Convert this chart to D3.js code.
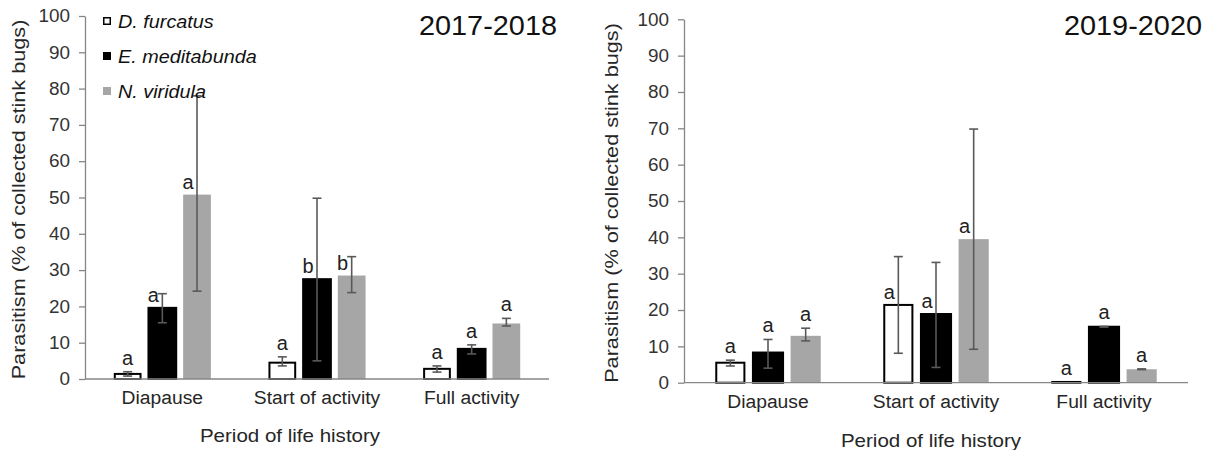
<!DOCTYPE html>
<html>
<head>
<meta charset="utf-8">
<script src="https://cdn.jsdelivr.net/npm/d3@7"></script>
<style>
  body { margin: 0; background: #fff; }
  text { font-family: "Liberation Sans", Arial, sans-serif; }
</style>
</head>
<body>
<div id="container"></div>
<script>
// Categories and series
const periods = ["Diapause", "Start of activity", "Full activity"];
const species = ["D. furcatus", "E. meditabunda", "N. viridula"];

// 2017-2018: rows = periods, columns = species
const mean1718 = [[1.4, 19.6, 50.8], [4.5, 27.5, 28.5], [2.8, 8.3, 15.3]];
const low1718 = [[0.8, 15.5, 24.2], [3.6, 5.0, 23.8], [1.9, 6.9, 14.6]];
const high1718 = [[2.0, 23.5, 78.0], [6.1, 49.8, 33.7], [3.6, 9.4, 16.7]];
const letters1718 = [["a", "a", "a"], ["a", "b", "b"], ["a", "a", "a"]];

// 2019-2020
const mean1920 = [[5.5, 8.3, 12.9], [21.4, 18.9, 39.5], [0.2, 15.4, 3.7]];
const low1920 = [[4.6, 4.0, 11.5], [8.1, 4.2, 9.2], [0.2, 15.3, 3.6]];
const high1920 = [[6.2, 11.9, 15.0], [34.7, 33.1, 69.8], [0.2, 15.5, 3.8]];
const letters1920 = [["a", "a", "a"], ["a", "a", "a"], ["a", "a", "a"]];

const yTicks = [0, 10, 20, 30, 40, 50, 60, 70, 80, 90, 100];

const fills = ["#ffffff", "#000000", "#a6a6a6"];
const strokes = ["#000000", "#000000", "none"];

const width = 1213;
const height = 450;

const svg = d3
  .select("#container")
  .append("svg")
  .attr("width", width)
  .attr("height", height);

// Stretch text slightly wider, the source font renders wider than Arial
function widen(sel, k) {
  sel.each(function () {
    const len = this.getComputedTextLength();
    this.setAttribute("textLength", len * k);
    this.setAttribute("lengthAdjust", "spacingAndGlyphs");
  });
}

const panels = [
  {
    title: "2017-2018", mean: mean1718, low: low1718, high: high1718, letters: letters1718,
    left: 85, right: 549, top: 16, base: 379,
    titleX: 557, xTitleX: 290, xTitleY: 442, yTitleX: 19, catY: 404, legend: true,
  },
  {
    title: "2019-2020", mean: mean1920, low: low1920, high: high1920, letters: letters1920,
    left: 684, right: 1188, top: 19.3, base: 382.7,
    titleX: 1202, xTitleX: 931, xTitleY: 447, yTitleX: 612, catY: 408, legend: false,
  },
];

panels.forEach((p) => {
  const g = svg.append("g");

  const x0 = d3.scaleBand().domain(periods).range([p.left, p.right]).padding(0);
  const x1 = d3
    .scaleBand()
    .domain(species)
    .range([0, x0.bandwidth()])
    .paddingInner(0.2)
    .paddingOuter(0.83);
  const y = d3.scaleLinear().domain([0, 100]).range([p.base, p.top]);

  // y axis
  const yAxis = d3.axisLeft(y).tickValues(yTicks).tickSize(6).tickSizeOuter(0).tickPadding(9);
  const ya = g.append("g").attr("transform", `translate(${p.left},0)`).call(yAxis);
  ya.select(".domain").attr("stroke", "#868686").attr("stroke-width", 1.3);
  ya.selectAll(".tick line").attr("stroke", "#868686").attr("stroke-width", 1.3);
  ya.selectAll(".tick text")
    .attr("fill", "#333")
    .style("font-size", "18px")
    .style("font-family", '"Liberation Sans", Arial, sans-serif')
    .call(widen, 1.05);

  // bars
  const rows = [];
  periods.forEach((per, i) =>
    species.forEach((sp, j) =>
      rows.push({
        per, sp, j,
        v: p.mean[i][j], lo: p.low[i][j], hi: p.high[i][j], letter: p.letters[i][j],
      })
    )
  );

  g.selectAll("rect.bar")
    .data(rows)
    .enter()
    .append("rect")
    .attr("class", "bar")
    .attr("x", (d) => x0(d.per) + x1(d.sp) + (d.j === 0 ? 1 : 0))
    .attr("width", (d) => x1.bandwidth() - (d.j === 0 ? 2 : 0))
    .attr("y", (d) => y(d.v))
    .attr("height", (d) => y(0) - y(d.v))
    .attr("fill", (d) => fills[d.j])
    .attr("stroke", (d) => strokes[d.j])
    .attr("stroke-width", 2);

  // x axis line
  g.append("line")
    .attr("x1", p.left)
    .attr("x2", p.right)
    .attr("y1", y(0))
    .attr("y2", y(0))
    .attr("stroke", "#868686")
    .attr("stroke-width", 1.3);

  // error bars
  const cx = (d) => x0(d.per) + x1(d.sp) + x1.bandwidth() / 2;
  const eb = g.selectAll("g.err").data(rows.filter((d) => d.hi > d.lo)).enter().append("g");
  eb.append("line")
    .attr("x1", cx).attr("x2", cx)
    .attr("y1", (d) => y(d.lo)).attr("y2", (d) => y(d.hi));
  eb.append("line")
    .attr("x1", (d) => cx(d) - 4.5).attr("x2", (d) => cx(d) + 4.5)
    .attr("y1", (d) => y(d.hi)).attr("y2", (d) => y(d.hi));
  eb.append("line")
    .attr("x1", (d) => cx(d) - 4.5).attr("x2", (d) => cx(d) + 4.5)
    .attr("y1", (d) => y(d.lo)).attr("y2", (d) => y(d.lo));
  eb.selectAll("line").attr("stroke", "#595959").attr("stroke-width", 1.6);

  // significance letters
  g.selectAll("text.letter")
    .data(rows)
    .enter()
    .append("text")
    .attr("class", "letter")
    .attr("text-anchor", "middle")
    .attr("x", (d) => cx(d) + (d.hi - d.v < 3.75 ? 0 : -9))
    .attr("y", (d) => (d.hi - d.v < 3.75 ? y(d.hi) - 7 : y(d.v) - 6))
    .attr("fill", "#222")
    .style("font-size", "20px")
    .text((d) => d.letter);

  // category labels
  g.selectAll("text.cat")
    .data(periods)
    .enter()
    .append("text")
    .attr("class", "cat")
    .attr("text-anchor", "middle")
    .attr("x", (d) => x0(d) + x0.bandwidth() / 2)
    .attr("y", p.catY)
    .attr("fill", "#262626")
    .style("font-size", "18px")
    .text((d) => d)
    .call(widen, 1.07);

  // axis titles
  g.append("text")
    .attr("text-anchor", "middle")
    .attr("x", p.xTitleX)
    .attr("y", p.xTitleY)
    .attr("fill", "#262626")
    .style("font-size", "19px")
    .text("Period of life history")
    .call(widen, 1.08);

  g.append("text")
    .attr("text-anchor", "middle")
    .attr("transform", `translate(${p.yTitleX + 6},${(p.top + p.base) / 2 + 2}) rotate(-90)`)
    .attr("fill", "#262626")
    .style("font-size", "18.5px")
    .text("Parasitism (% of collected stink bugs)")
    .call(widen, 1.17);

  // panel title
  g.append("text")
    .attr("text-anchor", "end")
    .attr("x", p.titleX)
    .attr("y", 35)
    .attr("fill", "#111")
    .style("font-size", "27.5px")
    .text(p.title)
    .call(widen, 1.05);

  // legend
  if (p.legend) {
    const lg = g
      .selectAll("g.leg")
      .data(species)
      .enter()
      .append("g")
      .attr("transform", (d, i) => `translate(103,${21 + i * 35})`);
    lg.append("rect")
      .attr("x", (d, i) => (i === 0 ? 0.75 : 0))
      .attr("y", (d, i) => (i === 0 ? -3.25 : -4))
      .attr("width", (d, i) => (i === 0 ? 6.5 : 8))
      .attr("height", (d, i) => (i === 0 ? 6.5 : 8))
      .attr("fill", (d, i) => fills[i])
      .attr("stroke", (d, i) => (i === 0 ? "#000" : "none"))
      .attr("stroke-width", 1.5);
    lg.append("text")
      .attr("x", 15)
      .attr("y", 7)
      .attr("fill", "#111")
      .style("font-size", "18.5px")
      .style("font-style", "italic")
      .text((d) => d)
      .call(widen, 1.07);
  }
});
</script>
</body>
</html>
